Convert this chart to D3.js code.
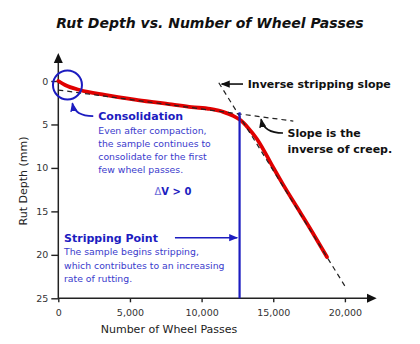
<!DOCTYPE html>
<html><head><meta charset="utf-8">
<script src="https://cdn.jsdelivr.net/npm/d3@7"></script>
<style>
html,body{margin:0;padding:0;background:#fff;}
text{font-family:"DejaVu Sans",Verdana,sans-serif;}
</style></head>
<body><svg id="c" width="420" height="344"></svg>
<script>
// ---- data ----
const passes = [0, 470, 1500, 3250, 5550, 7900, 9300, 10600, 11500, 12200, 12700, 13250, 13850, 14450, 15000, 15700, 16650, 17550, 18750];
const rutDepth = [0, 0.46, 1.04, 1.61, 2.19, 2.69, 3.0, 3.22, 3.55, 4.0, 4.5, 5.4, 6.65, 8.3, 9.95, 11.95, 14.5, 16.9, 20.25];
const xTicks = [0, 5000, 10000, 15000, 20000];
const yTicks = [0, 5, 10, 15, 20, 25];
const creepLine = [[0, 1.04], [16400, 4.61]];
const strippingLine = [[11200, 0.2], [20080, 23.8]];
const strippingPoint = 12650;
const strippingTop = 3.6;
const consolidationCenter = [640, 0.46];

const svg = d3.select("#c");
const x = d3.scaleLinear().domain([0, 20000]).range([58.3, 344.9]);
const y = d3.scaleLinear().domain([0, 25]).range([81, 298.3]);

const blue = "#1c1cc0", blueText = "#3a3acc", black = "#111";

const defs = svg.append("defs");
function marker(id, color) {
  defs.append("marker").attr("id", id).attr("viewBox", "0 0 10 10")
    .attr("refX", 9).attr("refY", 5).attr("markerWidth", 9).attr("markerHeight", 9)
    .attr("markerUnits", "userSpaceOnUse").attr("orient", "auto")
    .append("path").attr("d", "M0,1 L10,5 L0,9 Z").attr("fill", color);
}
marker("ab", blue); marker("ak", black);

// title
svg.append("text").attr("x", 210).attr("y", 28).attr("text-anchor", "middle")
  .style("font-size", "14px").style("font-weight", "bold").style("font-style", "italic")
  .attr("fill", black).text("Rut Depth vs. Number of Wheel Passes");

// axes
const gx = svg.append("g").attr("transform", `translate(0,${y(25)})`)
  .call(d3.axisBottom(x).tickValues(xTicks).tickFormat(d3.format(",")).tickSize(4).tickPadding(7));
const gy = svg.append("g").attr("transform", `translate(${x(0)},0)`)
  .call(d3.axisLeft(y).tickValues(yTicks).tickSize(7).tickPadding(3));
[gx, gy].forEach(g => {
  g.select(".domain").remove();
  g.selectAll("line").attr("stroke", "#222").attr("stroke-width", 1.4);
  g.selectAll("text").attr("fill", "#333").style("font-size", "9.5px").style("font-family", '"DejaVu Sans",Verdana,sans-serif');
});
// axis lines with arrows
svg.append("line").attr("x1", x(0)).attr("x2", 370).attr("y1", y(25)).attr("y2", y(25)).attr("stroke", "#222").attr("stroke-width", 1.5);
svg.append("path").attr("d", `M376.7,${y(25)} L367,${y(25) - 4.5} L367,${y(25) + 4.5} Z`).attr("fill", "#111");
svg.append("line").attr("x1", x(0)).attr("x2", x(0)).attr("y1", y(25)).attr("y2", 60).attr("stroke", "#222").attr("stroke-width", 1.5);
svg.append("path").attr("d", `M${x(0)},53 L${x(0) - 4.5},63 L${x(0) + 4.5},63 Z`).attr("fill", "#111");

// axis titles
svg.append("text").attr("x", 169).attr("y", 333).attr("text-anchor", "middle")
  .style("font-size", "11px").attr("fill", "#222").text("Number of Wheel Passes");
svg.append("text").attr("transform", "translate(27,181) rotate(-90)").attr("text-anchor", "middle")
  .style("font-size", "11px").attr("fill", "#222").text("Rut Depth (mm)");

// red curve
const pts = passes.map((p, i) => [p, rutDepth[i]]);
svg.append("path").datum(pts).attr("fill", "none").attr("stroke", "#e00000").attr("stroke-width", 3.8)
  .attr("stroke-linecap", "round")
  .attr("d", d3.line().x(d => x(d[0])).y(d => y(d[1])).curve(d3.curveMonotoneX));

// dashed lines
const ln = d3.line().x(d => x(d[0])).y(d => y(d[1]));
[creepLine, strippingLine].forEach(l => svg.append("path").datum(l).attr("d", ln)
  .attr("stroke", "#222").attr("stroke-width", 1.2).attr("stroke-dasharray", "5,4").attr("fill", "none"));

// stripping point line
svg.append("line").attr("x1", x(strippingPoint)).attr("x2", x(strippingPoint))
  .attr("y1", y(strippingTop)).attr("y2", y(25)).attr("stroke", blue).attr("stroke-width", 2.2);

// consolidation circle
svg.append("circle").attr("cx", x(consolidationCenter[0])).attr("cy", y(consolidationCenter[1]))
  .attr("r", 14.5).attr("fill", "none").attr("stroke", blue).attr("stroke-width", 2);

// arrows (annotation anchors in data units)
function curvedArrow(from, ctrl, to, id, color) {
  svg.append("path").attr("d", `M${x(from[0])},${y(from[1])} Q${x(ctrl[0])},${y(ctrl[1])} ${x(to[0])},${y(to[1])}`)
    .attr("fill", "none").attr("stroke", color).attr("stroke-width", 1.6).attr("marker-end", `url(#${id})`);
}
curvedArrow([2440, 4.04], [1150, 4.04], [980, 2.56], "ab", blue);
curvedArrow([15680, 5.99], [14350, 5.99], [14150, 4.4], "ak", black);
curvedArrow([12890, 0.35], [12150, 0.35], [11400, 0.35], "ak", black);
curvedArrow([8140, 18.03], [10300, 18.03], [12490, 18.03], "ab", blue);

// annotation texts
function txt(xv, yv, s, size, weight, color, anchor) {
  svg.append("text").attr("x", x(xv)).attr("y", y(yv)).attr("text-anchor", anchor || "start")
    .style("font-size", size + "px").style("font-weight", weight).attr("fill", color).text(s);
}
txt(2790, 4.5, "Consolidation", 11, "bold", blue);
const consLines = ["Even after compaction,", "the sample continues to", "consolidate for the first", "few wheel passes."];
consLines.forEach((s, i) => txt(2790, 6.06 + i * 1.51, s, 9.3, "normal", blueText));
svg.append("text").attr("x", x(8000)).attr("y", y(13.09)).attr("text-anchor", "middle")
  .style("font-size", "10px").attr("fill", blue)
  .call(t => { t.append("tspan").style("font-weight", "normal").attr("fill", "#6a6ad8").text("Δ");
               t.append("tspan").style("font-weight", "bold").text("V > 0"); });
txt(400, 18.49, "Stripping Point", 11, "bold", blue);
const stripLines = ["The sample begins stripping,", "which contributes to an increasing", "rate of rutting."];
stripLines.forEach((s, i) => txt(400, 20.07 + i * 1.52, s, 9.3, "normal", blueText));
txt(13220, 0.81, "Inverse stripping slope", 11, "bold", black);
txt(16000, 6.43, "Slope is the", 11, "bold", black);
txt(16000, 8.23, "inverse of creep.", 11, "bold", black);
</script></body></html>
